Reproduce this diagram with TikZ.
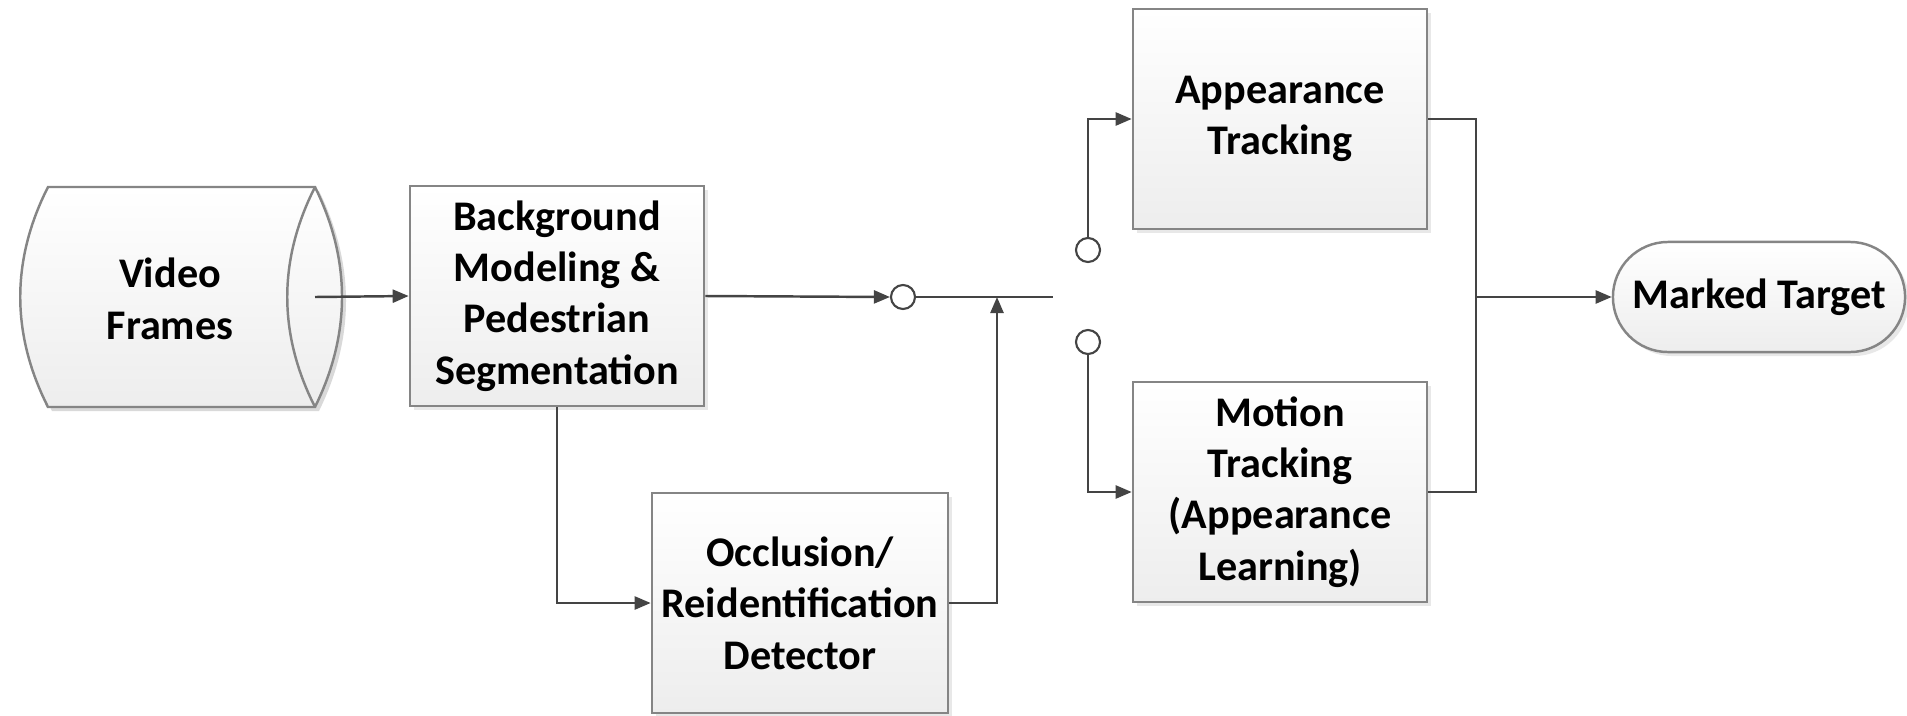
\documentclass[tikz,border=0pt]{standalone}
\usepackage{fontspec}
\setmainfont{Carlito}
\usetikzlibrary{positioning,calc,arrows.meta,shadows}

\definecolor{linegray}{HTML}{444444}
\definecolor{boxgray}{HTML}{858585}

\begin{document}
\begin{tikzpicture}[x=0.01cm, y=-0.01cm,
	txt/.style={align=center, font=\fontsize{12}{14.6}\selectfont\bfseries, inner sep=1pt},
	block/.style={txt, draw=boxgray, line width=0.7pt, top color=white, bottom color=black!7,
		minimum width=2.94cm, minimum height=2.2cm,
		drop shadow={opacity=0.18, shadow xshift=0.04cm, shadow yshift=-0.04cm}},
	sw/.style={draw=linegray, circle, fill=white, line width=0.6pt, inner sep=0pt, minimum size=0.24cm},
	arr/.style={draw=linegray, line width=0.7pt, -{Triangle[length=1.6mm, width=1.3mm]}},
	ln/.style={draw=linegray, line width=0.7pt}]

	\useasboundingbox (0,0) rectangle (1907,715);

	\fill[black, opacity=0.15] (52,191) -- (319,191) .. controls (355,264) and (355,338) .. (319,411) -- (52,411) .. controls (15,338) and (15,264) .. cycle;
	\draw[boxgray, line width=0.7pt, top color=white, bottom color=black!7] (48,187) -- (315,187) .. controls (351,260) and (351,334) .. (315,407) -- (48,407) .. controls (11,334) and (11,260) .. cycle;
	\draw[boxgray, line width=0.7pt] (315,187) .. controls (278,260) and (278,334) .. (315,407);
	\node[txt] (video) at (170,299) {Video\\Frames};

	\node[block] (bgm) at (557,296) {Background\\Modeling \&\\Pedestrian\\Segmentation};
	\node[block, minimum width=2.96cm] (occ) at (800,603) {Occlusion/\\Reidentification\\Detector};
	\node[block] (app) at (1280,119) {Appearance\\Tracking};
	\node[block] (mot) at (1280,492) {Motion\\Tracking\\(Appearance\\Learning)};
	\node[block, rounded corners=0.55cm, minimum width=2.92cm, minimum height=1.1cm] (target) at (1759,297) {Marked Target};

	\node[sw] (junc) at (903,297) {};
	\node[sw] (swa) at (1088,250) {};
	\node[sw] (swb) at (1088,342) {};
	\coordinate (vout) at (315,297);
	\coordinate (jend) at (1053,297);
	\coordinate (merge) at (997,297);
	\coordinate (split) at (1476,297);

	\draw[arr] (vout) -- (bgm.west);
	\draw[arr] (bgm.east) -- (junc.west);
	\draw[ln] (junc.east) -- (jend);
	\draw[arr] (bgm.south) |- (occ.west);
	\draw[arr] (occ.east) -| (merge);

	\draw[arr] (swa.north) |- (app.west);
	\draw[arr] (swb.south) |- (mot.west);

	\draw[ln] (app.east) -| (split);
	\draw[ln] (mot.east) -| (split);
	\draw[arr] (split) -- (target.west);
\end{tikzpicture}
\end{document}
